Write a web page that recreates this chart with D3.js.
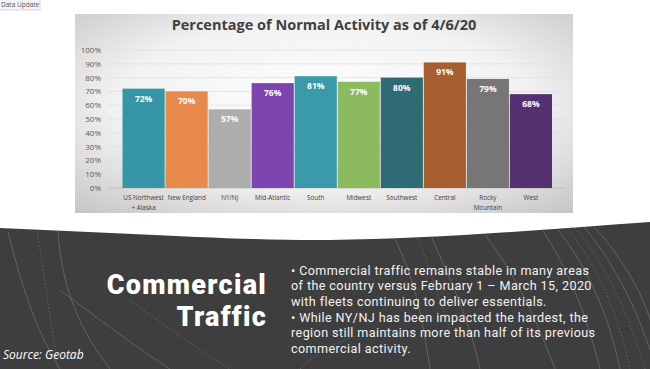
<!DOCTYPE html>
<html><head><meta charset="utf-8">
<script src="https://cdn.jsdelivr.net/npm/d3@7/dist/d3.min.js"></script>
<style>html,body{margin:0;padding:0;background:#fff;overflow:hidden}svg{display:block}</style>
</head><body>
<script>
const categories = ["US Northwest\n+ Alaska","New England","NY/NJ","Mid-Atlantic","South","Midwest","Southwest","Central","Rocky\nMountain","West"];
const values = [72,70,57,76,81,77,80,91,79,68];
const barColors = ["#3796a6","#e88a4c","#adadad","#7f45ae","#3a9aa9","#8cbb5f","#2f6b74","#a75f2f","#767676","#553172"];
const yTicks = [0,10,20,30,40,50,60,70,80,90,100];
const title = "Percentage of Normal Activity as of 4/6/20";
const bullets = [
  ["\u2022  Commercial traffic remains stable in many areas","of the country versus February 1 \u2013 March 15, 2020","with fleets continuing to deliver essentials."],
  ["\u2022  While NY/NJ has been impacted the hardest, the","region still maintains more than half of its previous","commercial activity."]
];

const W=650,H=369;
const svg=d3.select("body").append("svg").attr("width",W).attr("height",H);
const defs=svg.append("defs");
const rg=defs.append("radialGradient").attr("id","pg").attr("cx","50%").attr("cy","45%").attr("r","75%");
rg.append("stop").attr("offset","0%").attr("stop-color","#ffffff");
rg.append("stop").attr("offset","55%").attr("stop-color","#f2f2f2");
rg.append("stop").attr("offset","100%").attr("stop-color","#c4c4c4");

svg.append("rect").attr("x",-2).attr("y",-2).attr("width",42).attr("height",12).attr("fill","#f4f4f4").attr("stroke","#d8d8d8");
svg.append("text").attr("x",1).attr("y",6.5).attr("font-family","Open Sans").attr("font-size",6.5).attr("fill","#555").text("Data Update");

svg.append("rect").attr("x",75).attr("y",14).attr("width",498).attr("height",199).attr("fill","url(#pg)");

svg.append("text").attr("x",324).attr("y",30).attr("text-anchor","middle")
  .attr("font-family","Open Sans").attr("font-weight",700).attr("font-size",14.5).attr("fill","#404040").text(title);

const x=d3.scaleBand().domain(categories).range([122.5,552]).paddingInner(0.02).paddingOuter(0);
const y=d3.scaleLinear().domain([0,100]).range([188,50]);

const g=svg.append("g");
g.selectAll("line.grid").data(yTicks).join("line").attr("class","grid")
  .attr("x1",108).attr("x2",565).attr("y1",d=>y(d)).attr("y2",d=>y(d))
  .attr("stroke",d=>d===0?"#bdbdbd":"#e0e0e0").attr("stroke-width",0.8);

const yAxis=d3.axisLeft(y).tickValues(yTicks).tickFormat(d=>d+"%").tickSize(0).tickPadding(0);
const ya=g.append("g").attr("transform","translate(101,0)").call(yAxis);
ya.select(".domain").remove();
ya.selectAll("text").attr("font-family","Open Sans").attr("font-size",8).attr("fill","#595959");

g.selectAll("rect.bar").data(values).join("rect").attr("class","bar")
  .attr("x",(d,i)=>x(categories[i])).attr("width",x.bandwidth())
  .attr("y",d=>y(d)).attr("height",d=>y(0)-y(d)).attr("fill",(d,i)=>barColors[i]);

g.selectAll("text.val").data(values).join("text").attr("class","val")
  .attr("x",(d,i)=>x(categories[i])+x.bandwidth()/2).attr("y",d=>y(d)+13)
  .attr("text-anchor","middle").attr("font-family","Open Sans").attr("font-weight",700)
  .attr("font-size",8.5).attr("fill","#ffffff").text(d=>d+"%");

const xAxis=d3.axisBottom(x).tickSize(0).tickPadding(0).tickFormat(()=>"");
const xa=g.append("g").attr("transform","translate(0,188)").call(xAxis);
xa.select(".domain").remove();
xa.selectAll(".tick").each(function(d){
  const t=d3.select(this).append("text").attr("fill","#404040").attr("font-family","Open Sans").attr("font-size",6.3).attr("text-anchor","middle");
  d.split("\n").forEach((s,i)=>t.append("tspan").attr("x",0).attr("y",12+i*9.5).text(s));
});

svg.append("path").attr("d","M0,228 C120,233 250,241 330,240 C430,239 540,230 650,222 L650,369 L0,369 Z").attr("fill","#3e3e3e");
const arcs=[
  ["M8,232 C20,280 35,330 60,369",false],["M37,231 C45,280 52,330 58,369",true],["M58,231 C62,290 80,330 110,369",false],
  ["M60,290 C100,320 140,350 170,369",false],["M130,300 C170,330 200,350 230,369",true],
  ["M395,239 C410,270 420,300 430,369",false],["M418,238 C430,270 440,300 450,330",true],["M432,238 C450,280 470,320 480,369",false],
  ["M485,235 C520,280 540,330 555,369",false],["M543,231 C575,280 590,330 600,369",false],["M558,230 C590,270 610,320 620,369",false],
  ["M568,229 C600,270 620,320 630,369",true],["M575,228 C610,270 630,320 645,369",true],["M584,227 C620,270 640,320 650,350",false],
  ["M594,227 C625,260 645,300 650,320",false],["M300,369 C320,350 340,340 360,335",true]
];
svg.append("g").selectAll("path").data(arcs).join("path").attr("d",d=>d[0]).attr("fill","none")
  .attr("stroke","#8a8a8a").attr("stroke-width",0.6).attr("stroke-dasharray",d=>d[1]?"1.5,2":null).attr("opacity",0.8);

svg.append("text").attr("text-anchor","end").attr("font-family","Roboto").attr("font-weight",900)
  .attr("font-size",27).attr("letter-spacing",1.3).attr("fill","#ffffff").attr("x",267).attr("y",294).text("Commercial");
svg.append("text").attr("text-anchor","end").attr("font-family","Roboto").attr("font-weight",900)
  .attr("font-size",27).attr("letter-spacing",1.3).attr("fill","#ffffff").attr("x",267).attr("y",326).text("Traffic");
svg.append("text").attr("x",3).attr("y",359).attr("font-family","Open Sans").attr("font-style","italic")
  .attr("font-size",12).attr("fill","#ffffff").text("Source: Geotab");

const starts=[275,322];
bullets.forEach((lines,b)=>{
  lines.forEach((s,i)=>svg.append("text").attr("font-family","Roboto").attr("font-size",12.6).attr("letter-spacing",0.4)
    .attr("fill","#f2f2f2").attr("x",291).attr("y",starts[b]+i*15.3).text(s));
});
</script>
</body></html>
